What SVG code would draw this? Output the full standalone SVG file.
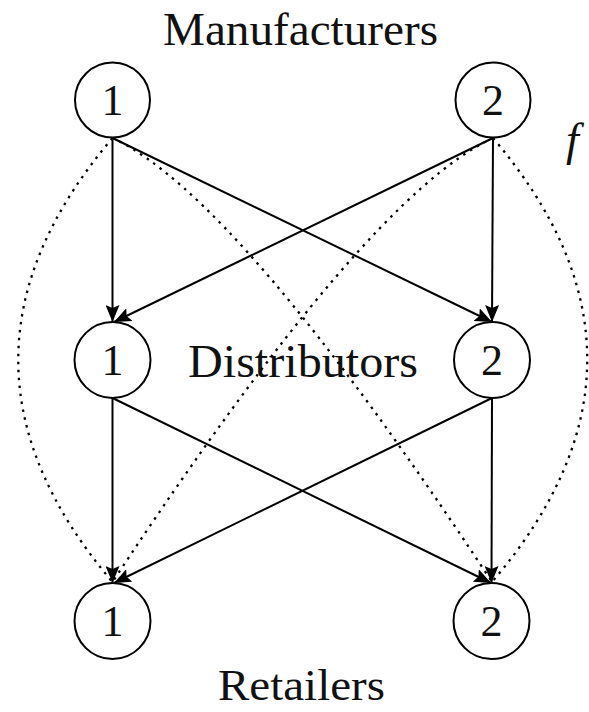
<svg xmlns="http://www.w3.org/2000/svg" width="589" height="712" viewBox="0 0 589 712">
<style>
.node{fill:none;stroke:#000;stroke-width:2}
.lbl{font-family:'Liberation Serif','Times New Roman','DejaVu Serif','Noto Serif',serif;font-size:44px;fill:#111;text-anchor:middle}
.title{font-family:'Liberation Serif','Times New Roman','DejaVu Serif','Noto Serif',serif;font-size:46px;fill:#111}
.arr{stroke:#000;stroke-width:2;fill:none;marker-end:url(#ah)}
.dot{stroke:#000;stroke-width:2.3;fill:none;stroke-dasharray:2.5 5.5}
</style>
<defs>
<marker id="ah" markerUnits="userSpaceOnUse" markerWidth="18" markerHeight="14" refX="17" refY="7" orient="auto">
<path d="M0,0 L17,7 L0,14 L3,7 z" fill="#000"/>
</marker>
</defs>
<rect width="589" height="712" fill="#fff"/>
<text class="title" x="163" y="45" textLength="275" lengthAdjust="spacingAndGlyphs">Manufacturers</text>
<text class="title" x="188" y="377" textLength="230" lengthAdjust="spacingAndGlyphs">Distributors</text>
<text class="title" x="218" y="700" font-size="44" style="font-size:44px" textLength="167" lengthAdjust="spacingAndGlyphs">Retailers</text>
<text x="566" y="155" style="font-family:'Liberation Serif','Times New Roman','DejaVu Serif',serif;font-style:italic;font-size:46px" fill="#111">f</text>
<g id="connectors">
<line class="arr" x1="112.5" y1="138" x2="112.5" y2="322"/>
<line class="arr" x1="112.5" y1="138" x2="492" y2="322"/>
<line class="arr" x1="493" y1="138" x2="492" y2="322"/>
<line class="arr" x1="493" y1="138" x2="114" y2="322"/>
<line class="arr" x1="112.5" y1="398" x2="112.5" y2="583"/>
<line class="arr" x1="112.5" y1="398" x2="491" y2="583"/>
<line class="arr" x1="492" y1="398" x2="491.5" y2="583"/>
<line class="arr" x1="492" y1="398" x2="114" y2="583"/>
<path class="dot" d="M112.5,138 Q-76,360 112.5,582"/>
<path class="dot" d="M493,138 Q682,360 492,582"/>
<path class="dot" d="M112.5,138 Q238,196 492,582"/>
<path class="dot" d="M493,138 Q367,196 112.5,582"/>
</g>
<g id="m1"><circle class="node" cx="112.5" cy="100" r="37.5"/><text class="lbl" x="112.5" y="115">1</text></g>
<g id="m2"><circle class="node" cx="493" cy="100" r="37.5"/><text class="lbl" x="493" y="115">2</text></g>
<g id="d1"><circle class="node" cx="112.5" cy="360" r="38"/><text class="lbl" x="112.5" y="375">1</text></g>
<g id="d2"><circle class="node" cx="492" cy="360" r="38"/><text class="lbl" x="492" y="375">2</text></g>
<g id="r1"><circle class="node" cx="112.5" cy="621" r="38"/><text class="lbl" x="112.5" y="636">1</text></g>
<g id="r2"><circle class="node" cx="491.5" cy="621" r="38"/><text class="lbl" x="491.5" y="636">2</text></g>
</svg>
